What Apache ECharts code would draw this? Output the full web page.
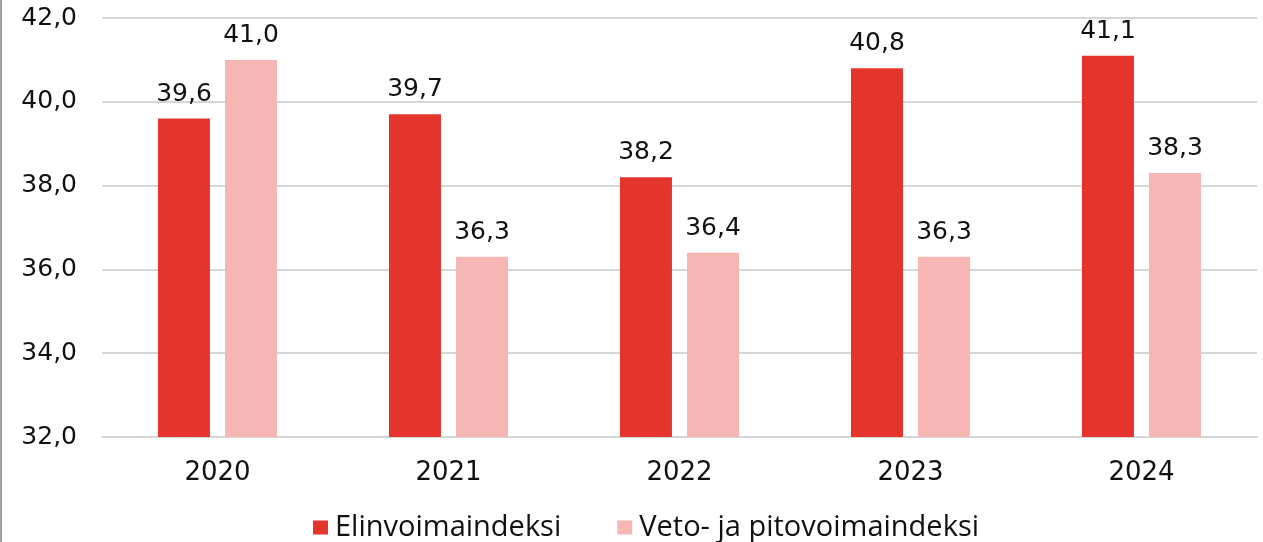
<!DOCTYPE html>
<html>
<head>
<meta charset="utf-8">
<script src="https://cdn.jsdelivr.net/npm/echarts@6/dist/echarts.min.js"></script>
<style>
  html, body { margin: 0; padding: 0; background: #fff; }
  #chart { width: 1263px; height: 542px; }
</style>
</head>
<body>
<div id="chart"></div>
<script>
const years = ['2020', '2021', '2022', '2023', '2024'];
const elinvoima = [39.6, 39.7, 38.2, 40.8, 41.1];
const vetoPito = [41.0, 36.3, 36.4, 36.3, 38.3];
const seriesNames = ['Elinvoimaindeksi', 'Veto- ja pitovoimaindeksi'];

const NUM_FONT = '"DejaVu Sans", sans-serif';
const LEGEND_FONT = '"Open Sans", "Noto Sans", sans-serif';
const fmt = v => Number(v).toFixed(1).replace('.', ',');

const chart = echarts.init(document.getElementById('chart'));

const labelStyle = {
    show: true,
    position: 'top',
    distance: 12,
    color: '#111',
    fontSize: 25,
    fontFamily: NUM_FONT,
    formatter: p => fmt(p.value)
};

chart.setOption({
    animation: false,
    grid: { left: 102, right: 6, top: 18, bottom: 105 },
    legend: {
        top: 508,
        left: 308,
        itemWidth: 15,
        itemHeight: 14,
        itemGap: 56,
        icon: 'rect',
        textStyle: { fontSize: 29, color: '#111', fontFamily: LEGEND_FONT, padding: [0, 0, 0, 2] },
        data: seriesNames
    },
    xAxis: {
        type: 'category',
        data: years,
        axisLine: { show: true, lineStyle: { color: '#d6d6d6', width: 2 } },
        axisTick: { show: false },
        axisLabel: { color: '#111', fontSize: 26, margin: 23, fontFamily: NUM_FONT }
    },
    yAxis: {
        type: 'value',
        min: 32,
        max: 42,
        interval: 2,
        axisLine: { show: false },
        axisTick: { show: false },
        splitLine: { lineStyle: { color: '#d6d6d6', width: 2 } },
        axisLabel: { color: '#111', fontSize: 25, margin: 25, fontFamily: NUM_FONT, formatter: v => fmt(v) }
    },
    graphic: [{
        type: 'rect',
        shape: { x: 0, y: 0, width: 2, height: 542 },
        style: { fill: '#a0a0a0' }
    }],
    series: [
        {
            name: seriesNames[0],
            type: 'bar',
            data: elinvoima,
            barWidth: 52,
            barGap: '29%',
            itemStyle: { color: '#e4342b' },
            label: labelStyle
        },
        {
            name: seriesNames[1],
            type: 'bar',
            data: vetoPito,
            barWidth: 52,
            itemStyle: { color: '#f5b6b4' },
            label: labelStyle
        }
    ]
});
</script>
</body>
</html>
